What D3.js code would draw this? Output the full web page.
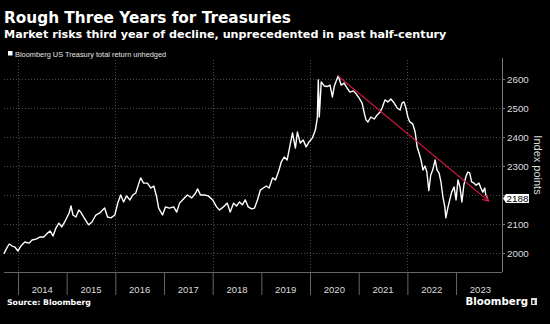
<!DOCTYPE html>
<html>
<head>
<meta charset="utf-8">
<title>Rough Three Years for Treasuries</title>
<script src="https://d3js.org/d3.v7.min.js"></script>
<style>
  body { margin: 0; background: #000; }
  svg { display: block; font-family: "Liberation Sans", Arial, sans-serif; }
  .bold { font-family: "DejaVu Sans", sans-serif; font-weight: bold; }
</style>
</head>
<body>
<svg width="550" height="324"></svg>
<script>
// index values (decimal year, index points)
const years = [
  2013.71, 2013.77, 2013.82, 2013.88, 2013.94, 2014.00, 2014.06, 2014.14, 2014.23, 2014.29,
  2014.37, 2014.45, 2014.53, 2014.59, 2014.66, 2014.72, 2014.78, 2014.84, 2014.90, 2014.96,
  2015.05, 2015.09, 2015.13, 2015.19, 2015.25, 2015.29, 2015.35, 2015.45, 2015.52, 2015.60,
  2015.68, 2015.78, 2015.84, 2015.91, 2015.99, 2016.05, 2016.11, 2016.17, 2016.23, 2016.30,
  2016.36, 2016.42, 2016.46, 2016.52, 2016.58, 2016.66, 2016.73, 2016.79, 2016.85, 2016.89,
  2016.97, 2017.03, 2017.11, 2017.20, 2017.26, 2017.32, 2017.40, 2017.48, 2017.57, 2017.65,
  2017.69, 2017.75, 2017.83, 2017.91, 2018.00, 2018.08, 2018.14, 2018.22, 2018.30, 2018.36,
  2018.43, 2018.49, 2018.55, 2018.61, 2018.67, 2018.73, 2018.80, 2018.86, 2018.92, 2018.98,
  2019.04, 2019.10, 2019.16, 2019.23, 2019.29, 2019.35, 2019.41, 2019.47, 2019.53, 2019.59,
  2019.64, 2019.70, 2019.74, 2019.80, 2019.86, 2019.92, 2019.98, 2020.05, 2020.11, 2020.15,
  2020.17, 2020.19, 2020.23, 2020.29, 2020.35, 2020.41, 2020.46, 2020.50, 2020.56, 2020.58,
  2020.64, 2020.70, 2020.76, 2020.82, 2020.89, 2020.95, 2021.01, 2021.07, 2021.11, 2021.15,
  2021.19, 2021.25, 2021.32, 2021.38, 2021.44, 2021.48, 2021.54, 2021.60, 2021.66, 2021.73,
  2021.79, 2021.85, 2021.89, 2021.93, 2021.97, 2022.01, 2022.05, 2022.11, 2022.16, 2022.20,
  2022.24, 2022.28, 2022.32, 2022.36, 2022.40, 2022.44, 2022.48, 2022.52, 2022.57, 2022.61,
  2022.65, 2022.69, 2022.73, 2022.77, 2022.79, 2022.83, 2022.87, 2022.91, 2022.96, 2023.00,
  2023.04, 2023.08, 2023.12, 2023.16, 2023.20, 2023.24, 2023.28, 2023.32, 2023.37, 2023.41,
  2023.47, 2023.51, 2023.55, 2023.59, 2023.61, 2023.65
];
const values = [
  1997, 2017, 2031, 2024, 2020, 2007, 2024, 2038, 2034, 2045,
  2048, 2055, 2055, 2066, 2076, 2059, 2086, 2103, 2090, 2107,
  2138, 2162, 2131, 2124, 2148, 2141, 2124, 2097, 2107, 2131,
  2138, 2155, 2124, 2121, 2131, 2172, 2200, 2176, 2197, 2183,
  2200, 2207, 2228, 2259, 2241, 2241, 2224, 2231, 2193, 2155,
  2131, 2159, 2155, 2159, 2141, 2172, 2186, 2200, 2190, 2207,
  2221, 2200, 2200, 2197, 2183, 2159, 2148, 2159, 2172, 2141,
  2172, 2162, 2176, 2166, 2183, 2159, 2152, 2155, 2183, 2217,
  2224, 2231, 2224, 2259, 2252, 2279, 2314, 2331, 2321, 2372,
  2414, 2362, 2417, 2379, 2390, 2366, 2383, 2397, 2424, 2466,
  2597, 2469, 2590, 2576, 2574, 2579, 2538, 2576, 2603, 2610,
  2579, 2586, 2569, 2555, 2559, 2548, 2534, 2517, 2486, 2459,
  2452, 2469, 2462, 2476, 2486, 2500, 2528, 2521, 2531, 2517,
  2500, 2493, 2517, 2521, 2500, 2469, 2452, 2445, 2417, 2366,
  2345, 2321, 2286, 2300, 2280, 2215, 2269, 2286, 2321, 2286,
  2276, 2245, 2193, 2159, 2121, 2155, 2183, 2210, 2228, 2183,
  2252, 2228, 2176, 2234, 2262, 2279, 2276, 2245, 2241, 2234,
  2241, 2224, 2210, 2224, 2200, 2188
];
const yearLabels = [2014, 2015, 2016, 2017, 2018, 2019, 2020, 2021, 2022, 2023];
const yTicks = [2000, 2100, 2200, 2300, 2400, 2500, 2600];
const gridYears = [2014, 2016, 2018, 2020, 2022];
const trendYears = [2020.58, 2023.67];
const trendValues = [2610, 2179];
const lastValue = 2188;

const svg = d3.select('svg');
const plotLeft = 4, plotRight = 502, plotTop = 60, plotBottom = 272;

svg.append('rect').attr('width', 550).attr('height', 324).attr('fill', '#000');

const x = d3.scaleLinear().domain([2013.713, 2023.944]).range([plotLeft, plotRight]);
const y = d3.scaleLinear().domain([1934.5, 2665.5]).range([plotBottom, plotTop]);

// titles
svg.append('text').attr('class', 'bold').attr('x', 4).attr('y', 23)
  .attr('fill', '#fff').attr('font-size', 15.3)
  .text('Rough Three Years for Treasuries');
svg.append('text').attr('class', 'bold').attr('x', 4).attr('y', 38)
  .attr('fill', '#fff').attr('font-size', 11.2)
  .text('Market risks third year of decline, unprecedented in past half-century');

// legend
svg.append('rect').attr('x', 8).attr('y', 51).attr('width', 4.5).attr('height', 4.5).attr('fill', '#fff');
svg.append('text').attr('x', 15).attr('y', 56.5)
  .attr('fill', '#e6e6e6').attr('font-size', 7.4)
  .text('Bloomberg US Treasury total return unhedged');

// grid
const grid = svg.append('g').attr('stroke', '#5a5a5a').attr('stroke-width', 0.8).attr('stroke-dasharray', '1,2');
grid.selectAll('line.h').data(yTicks).enter().append('line')
  .attr('x1', plotLeft).attr('x2', plotRight)
  .attr('y1', d => Math.round(y(d)) + 0.5).attr('y2', d => Math.round(y(d)) + 0.5);
grid.selectAll('line.v').data(gridYears).enter().append('line')
  .attr('x1', d => Math.round(x(d)) + 0.5).attr('x2', d => Math.round(x(d)) + 0.5)
  .attr('y1', plotTop).attr('y2', plotBottom);

// x axis: separators at year starts, labels mid-year
const xAxis = svg.append('g').attr('transform', `translate(0,${plotBottom})`)
  .call(d3.axisBottom(x).tickValues(yearLabels).tickSize(23).tickFormat(''));
xAxis.select('.domain').attr('stroke', '#666').attr('d', `M${plotLeft},0.5H${plotRight}`);
xAxis.selectAll('.tick line').attr('stroke', '#666');
svg.append('g').selectAll('text').data(yearLabels).enter().append('text')
  .attr('x', d => x(d + 0.5)).attr('y', 293)
  .attr('text-anchor', 'middle').attr('fill', '#ddd').attr('font-size', 9.5)
  .text(d => d);

// right axis (the 2200 label sits under the last-value tag)
const yAxis = svg.append('g').attr('transform', `translate(${plotRight},0)`)
  .call(d3.axisRight(y).tickValues(yTicks).tickSize(3).tickPadding(2)
    .tickFormat(d => d === 2200 ? '' : d3.format('d')(d)));
yAxis.select('.domain').attr('stroke', '#777').attr('d', `M0.5,${plotTop - 2}V${plotBottom}`);
yAxis.selectAll('.tick line').attr('stroke', '#777');
yAxis.selectAll('.tick text').attr('fill', '#ddd').attr('font-size', 9.8)
  .attr('font-family', '"Liberation Sans", Arial, sans-serif');

svg.append('text')
  .attr('transform', 'translate(534,165) rotate(90)')
  .attr('text-anchor', 'middle').attr('fill', '#ddd').attr('font-size', 11)
  .text('Index points');

// series
const line = d3.line().x((d, i) => x(years[i])).y(d => y(d));
svg.append('path').datum(values)
  .attr('fill', 'none').attr('stroke', '#fff').attr('stroke-width', 1.4)
  .attr('stroke-linejoin', 'round').attr('d', line);

// trend arrow
svg.append('defs').append('marker')
  .attr('id', 'arrow').attr('viewBox', '0 0 10 10').attr('refX', 9).attr('refY', 5)
  .attr('markerWidth', 7).attr('markerHeight', 7).attr('orient', 'auto')
  .append('path').attr('d', 'M1,1L9,5L1,9').attr('fill', 'none').attr('stroke', '#ee1a45').attr('stroke-width', 1.3);
svg.append('line')
  .attr('x1', x(trendYears[0])).attr('y1', y(trendValues[0]))
  .attr('x2', x(trendYears[1])).attr('y2', y(trendValues[1]))
  .attr('stroke', '#ee1a45').attr('stroke-width', 1.1).attr('marker-end', 'url(#arrow)');

// last value tag
const ly = y(lastValue);
svg.append('path')
  .attr('d', `M${plotRight + 1},${ly} L${plotRight + 4},${ly - 4.5} H${plotRight + 27} V${ly + 4.5} H${plotRight + 4} Z`)
  .attr('fill', '#fff');
svg.append('text').attr('x', plotRight + 15.5).attr('y', ly + 3.4)
  .attr('text-anchor', 'middle').attr('fill', '#000').attr('font-size', 9.8)
  .text(lastValue);

// footer
svg.append('text').attr('class', 'bold').attr('x', 7).attr('y', 305)
  .attr('fill', '#fff').attr('font-size', 7.8)
  .text('Source: Bloomberg');
svg.append('text').attr('class', 'bold').attr('x', 528).attr('y', 305)
  .attr('text-anchor', 'end').attr('fill', '#fff').attr('font-size', 10.2)
  .text('Bloomberg');
svg.append('rect').attr('x', 531).attr('y', 298).attr('width', 6).attr('height', 7).attr('fill', '#ddd');
svg.append('rect').attr('x', 532.5).attr('y', 300).attr('width', 2).attr('height', 4).attr('fill', '#000');
</script>
</body>
</html>
